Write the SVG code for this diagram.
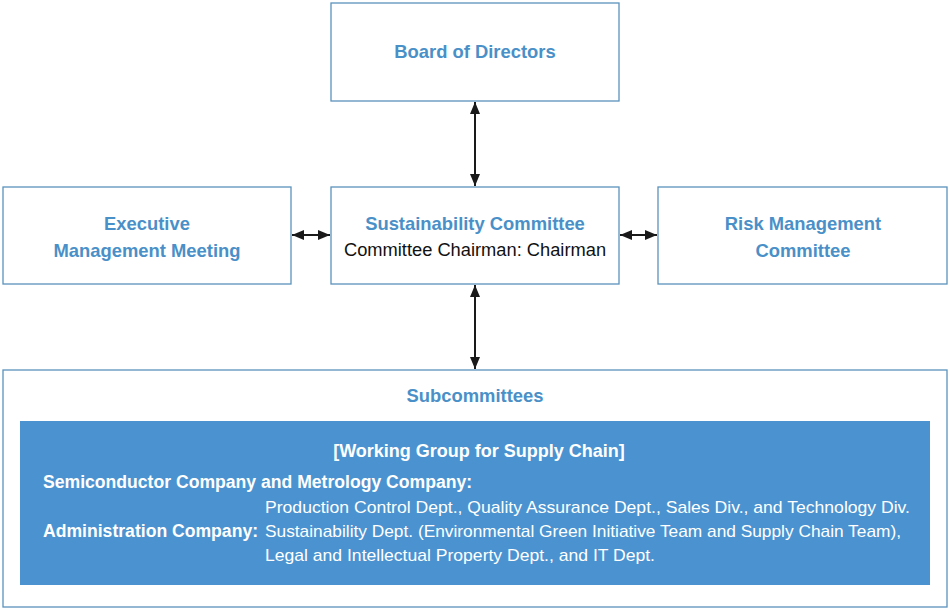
<svg xmlns="http://www.w3.org/2000/svg" width="950" height="610" viewBox="0 0 950 610">
<defs>
<marker id="ah" viewBox="0 0 12 10" refX="12" refY="5" markerWidth="12" markerHeight="10" markerUnits="userSpaceOnUse" orient="auto-start-reverse">
<path d="M0,0 L12,5 L0,10 Z" fill="#1a1a1a"/>
</marker>
</defs>
<style>
.box{fill:#fff;stroke:#5b93bd;stroke-width:1.3}
.t{font-family:"Liberation Sans",Arial,sans-serif;font-size:18.4px;font-weight:bold;fill:#4a90c8;text-anchor:middle}
.k{font-family:"Liberation Sans",Arial,sans-serif;font-size:18.3px;fill:#111;text-anchor:middle}
.w{font-family:"Liberation Sans",Arial,sans-serif;font-size:17px;fill:#fff}
.wb{font-weight:bold;font-size:17.6px}
.c{stroke:#1a1a1a;stroke-width:2;fill:none}
</style>
<g id="board">
<rect class="box" x="331" y="3" width="288" height="98"/>
<text class="t" x="475" y="58">Board of Directors</text>
</g>
<g id="executive">
<rect class="box" x="3" y="187" width="288" height="97"/>
<text class="t" x="147" y="230">Executive</text>
<text class="t" x="147" y="257">Management Meeting</text>
</g>
<g id="sustainability">
<rect class="box" x="331" y="187" width="288" height="97"/>
<text class="t" x="475" y="230">Sustainability Committee</text>
<text class="k" x="475" y="256">Committee Chairman: Chairman</text>
</g>
<g id="risk">
<rect class="box" x="658" y="187" width="289" height="97"/>
<text class="t" x="803" y="230">Risk Management</text>
<text class="t" x="803" y="257">Committee</text>
</g>
<g id="subcommittees">
<rect class="box" x="3" y="370" width="944" height="237"/>
<text class="t" x="475" y="402">Subcommittees</text>
<rect x="20" y="421" width="910" height="164" fill="#4a93d0"/>
<text class="w wb" x="479" y="457" text-anchor="middle" style="font-size:18px">[Working Group for Supply Chain]</text>
<text class="w wb" x="43" y="488">Semiconductor Company and Metrology Company:</text>
<text class="w" x="265" y="513" textLength="645" lengthAdjust="spacingAndGlyphs">Production Control Dept., Quality Assurance Dept., Sales Div., and Technology Div.</text>
<text class="w wb" x="43" y="537">Administration Company:</text>
<text class="w" x="265" y="537" textLength="636" lengthAdjust="spacingAndGlyphs">Sustainability Dept. (Environmental Green Initiative Team and Supply Chain Team),</text>
<text class="w" x="265" y="561" textLength="390" lengthAdjust="spacingAndGlyphs">Legal and Intellectual Property Dept., and IT Dept.</text>
</g>
<g id="connectors">
<line class="c" x1="475" y1="102" x2="475" y2="186" marker-start="url(#ah)" marker-end="url(#ah)"/>
<line class="c" x1="475" y1="285" x2="475" y2="369" marker-start="url(#ah)" marker-end="url(#ah)"/>
<line class="c" x1="292" y1="235" x2="330" y2="235" marker-start="url(#ah)" marker-end="url(#ah)"/>
<line class="c" x1="620" y1="235" x2="657" y2="235" marker-start="url(#ah)" marker-end="url(#ah)"/>
</g>
</svg>
